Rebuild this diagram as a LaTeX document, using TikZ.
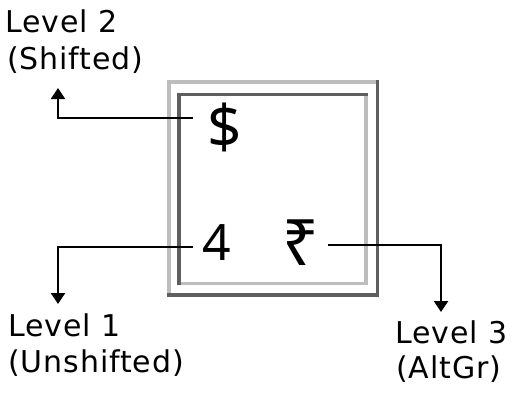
\documentclass[tikz,border=0pt]{standalone}
\usepackage{fontspec}
\setmainfont{DejaVu Sans}
\newfontfamily\lblfont[LetterSpace=3]{DejaVu Sans}
\newfontfamily\symfont{Noto Sans}
\usetikzlibrary{arrows.meta}
\definecolor{keylight}{HTML}{BDBDBD}
\definecolor{keydark}{HTML}{5F5F5F}
\tikzset{
  lbl/.style={inner sep=0pt, anchor=base west, font=\lblfont\fontsize{30}{34}\selectfont},
  sym/.style={inner sep=0pt, anchor=base},
  conn/.style={line width=2.4pt, black, -{Triangle[width=14pt,length=11pt]}},
  lightedge/.style={line width=3.5pt, keylight},
  darkedge/.style={line width=3.5pt, keydark}
}
\begin{document}
\begin{tikzpicture}[x=1pt,y=-1pt]
\useasboundingbox (0,0) rectangle (513,392);
% key box
\draw[lightedge] (169,295) -- (169,82) -- (377.5,82);
\draw[darkedge] (377.5,80.25) -- (377.5,295) -- (167.25,295);
\draw[lightedge] (366,94.5) -- (366,283.5) -- (179,283.5);
\draw[darkedge] (179,285.25) -- (179,94.5) -- (367.75,94.5);
% symbols
\node[sym, font=\symfont\fontsize{60}{66}\selectfont] (dollar) at (224.5,148) {\$};
\node[sym, font=\symfont\fontsize{50}{56}\selectfont] (four) at (217,260) {4};
\node[sym, font=\symfont\fontsize{64}{70}\selectfont] (rupee) at (301,265) {₹};
% labels
\node[lbl] (l2a) at (5,32) {Level 2};
\node[lbl] (l2b) at (7,69) {(Shifted)};
\node[lbl] (l1a) at (8,336) {Level 1};
\node[lbl] (l1b) at (8,372) {(Unshifted)};
\node[lbl] (l3a) at (395,343) {Level 3};
\node[lbl] (l3b) at (396,378) {(AltGr)};
% arrow tips
\coordinate (t2) at (58,88);
\coordinate (t1) at (58,304);
\coordinate (t3) at (441,312);
% connectors
\draw[conn] ([xshift=-14pt,yshift=30pt]dollar.base west) -| (t2);
\draw[conn] ([xshift=-10pt,yshift=13pt]four.base west) -| (t1);
\draw[conn] ([xshift=8pt,yshift=20pt]rupee.base east) -| (t3);
\end{tikzpicture}
\end{document}
